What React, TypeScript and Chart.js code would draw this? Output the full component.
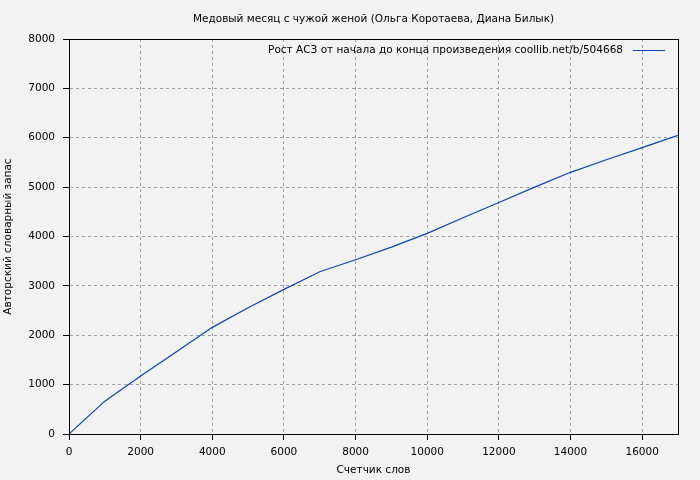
import React, { useEffect, useRef } from 'react';
import { Chart, registerables } from 'chart.js';

Chart.register(...registerables);

const TITLE = 'Медовый месяц с чужой женой (Ольга Коротаева, Диана Билык)';
const SERIES_LABEL = 'Рост АСЗ от начала до конца произведения coollib.net/b/504668';
const X_TITLE = 'Счетчик слов';
const Y_TITLE = 'Авторский словарный запас';

const wordCounts = [0, 1000, 2000, 3000, 4000, 5000, 6000, 7000, 8000, 9000, 10000, 11000, 12000, 13000, 14000, 15000, 16000, 17000];
const vocabulary = [0, 665, 1174, 1667, 2160, 2557, 2929, 3285, 3530, 3785, 4063, 4380, 4690, 5000, 5300, 5555, 5800, 6050];

const xTickValues = [0, 2000, 4000, 6000, 8000, 10000, 12000, 14000, 16000];
const yTickValues = [0, 1000, 2000, 3000, 4000, 5000, 6000, 7000, 8000];

const X_MIN = 0;
const X_MAX = 17000;
const Y_MIN = 0;
const Y_MAX = 8000;

const FONT_FAMILY = 'DejaVu Sans';
const FONT_SIZE = 10.5;
const TEXT_COLOR = '#000000';
const LINE_COLOR = '#0a47b0';
const GRID_COLOR = '#a0a0a0';
const BG_COLOR = '#f2f2f2';

const framePlugin = {
  id: 'frame',
  beforeDraw(chart: any) {
    const { ctx, width, height } = chart;
    ctx.save();
    ctx.fillStyle = BG_COLOR;
    ctx.fillRect(0, 0, width, height);
    ctx.restore();
  },
  afterDraw(chart: any) {
    const { ctx, chartArea } = chart;
    const l = Math.round(chartArea.left) + 0.5;
    const r = Math.round(chartArea.right) + 0.5;
    const t = Math.round(chartArea.top) + 0.5;
    const b = Math.round(chartArea.bottom) + 0.5;
    ctx.save();
    ctx.strokeStyle = '#000';
    ctx.lineWidth = 1;
    ctx.strokeRect(l, t, r - l, b - t);

    // legend inside the plot, top-right (gnuplot style: text then line sample)
    const ds = chart.data.datasets[0];
    const y = Math.round(chartArea.top) + 11.5;
    const lineEnd = Math.round(chartArea.right) - 13;
    const lineStart = lineEnd - 32;
    ctx.font = `${FONT_SIZE}px "${FONT_FAMILY}"`;
    ctx.fillStyle = TEXT_COLOR;
    ctx.textAlign = 'right';
    ctx.textBaseline = 'middle';
    ctx.fillText(ds.label, lineStart - 10, y);
    ctx.strokeStyle = ds.borderColor;
    ctx.lineWidth = 1;
    ctx.beginPath();
    ctx.moveTo(lineStart, y);
    ctx.lineTo(lineEnd, y);
    ctx.stroke();
    ctx.restore();
  },
};

export default function App() {
  const canvasRef = useRef<HTMLCanvasElement | null>(null);

  useEffect(() => {
    const canvas = canvasRef.current;
    if (!canvas) return;
    const font = { family: FONT_FAMILY, size: FONT_SIZE, lineHeight: 1.2 };
    const chart = new Chart(canvas, {
      type: 'line',
      data: {
        datasets: [
          {
            label: SERIES_LABEL,
            data: wordCounts.map((x, i) => ({ x, y: vocabulary[i] })),
            borderColor: LINE_COLOR,
            backgroundColor: LINE_COLOR,
            borderWidth: 1.2,
            pointRadius: 0,
            tension: 0,
            fill: false,
          },
        ],
      },
      options: {
        animation: false,
        responsive: false,
        maintainAspectRatio: false,
        layout: { padding: { left: 0, right: 22, top: 0, bottom: 0 } },
        plugins: {
          title: {
            display: true,
            fullSize: false,
            text: TITLE,
            color: TEXT_COLOR,
            font: { family: FONT_FAMILY, size: FONT_SIZE, weight: 'normal', lineHeight: '13px' },
            padding: { top: 13, bottom: 13 },
          },
          legend: { display: false },
          tooltip: { enabled: false },
        },
        scales: {
          x: {
            type: 'linear',
            min: X_MIN,
            max: X_MAX,
            afterFit: (scale: any) => {
              scale.height = 46;
            },
            afterBuildTicks: (scale: any) => {
              scale.ticks = xTickValues.map((value) => ({ value }));
            },
            ticks: {
              autoSkip: false,
              color: TEXT_COLOR,
              font,
              padding: 6,
              maxRotation: 0,
              callback: (v: any) => String(v),
            },
            grid: {
              color: GRID_COLOR,
              lineWidth: 1,
              drawTicks: true,
              tickLength: 6,
              tickColor: '#000',
              tickWidth: 1,
            },
            border: { display: true, color: '#000', width: 1, dash: [3, 3] },
            title: {
              display: true,
              text: X_TITLE,
              color: TEXT_COLOR,
              font,
              padding: { top: 0, bottom: 3 },
            },
          },
          y: {
            type: 'linear',
            min: Y_MIN,
            max: Y_MAX,
            afterFit: (scale: any) => {
              scale.width = 69;
            },
            afterBuildTicks: (scale: any) => {
              scale.ticks = yTickValues.map((value) => ({ value }));
            },
            ticks: {
              autoSkip: false,
              color: TEXT_COLOR,
              font,
              padding: 8,
              callback: (v: any) => String(v),
            },
            grid: {
              color: GRID_COLOR,
              lineWidth: 1,
              drawTicks: true,
              tickLength: 6,
              tickColor: '#000',
              tickWidth: 1,
            },
            border: { display: true, color: '#000', width: 1, dash: [3, 3] },
            title: {
              display: true,
              text: Y_TITLE,
              color: TEXT_COLOR,
              font,
              padding: { top: 2, bottom: 0 },
            },
          },
        },
      },
      plugins: [framePlugin],
    } as any);
    return () => chart.destroy();
  }, []);

  return (
    <div style={{ position: 'fixed', left: 0, top: 0, width: 700, height: 480, background: BG_COLOR }}>
      <canvas ref={canvasRef} width={700} height={480} style={{ display: 'block', width: 700, height: 480 }} />
    </div>
  );
}
